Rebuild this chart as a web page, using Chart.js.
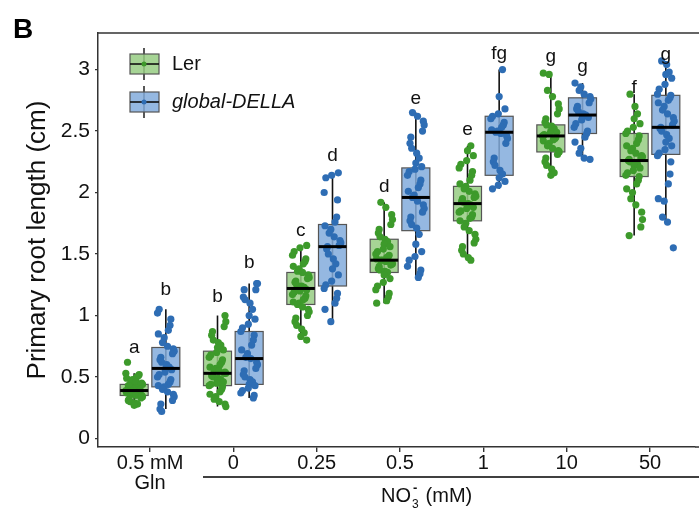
<!DOCTYPE html>
<html>
<head>
<meta charset="utf-8">
<script src="https://cdn.jsdelivr.net/npm/chart.js@4"></script>
<style>
  body { margin: 0; background: #fff; }
  #wrap { width: 699px; height: 508px; position: relative; }
</style>
</head>
<body>
<div id="wrap"><canvas id="myChart" width="699" height="508"></canvas></div>
<script>
const FONT = 'Arial, "Liberation Sans", sans-serif';

const categories = [['0.5 mM', 'Gln'], '0', '0.25', '0.5', '1', '10', '50'];
const yTicks = [0, 0.5, 1, 1.5, 2, 2.5, 3];

// box stats: [whiskerLow, q1, median, q3, whiskerHigh]
const lerBoxes = [
  [0.28, 0.35, 0.39, 0.44, 0.53],
  [0.26, 0.43, 0.53, 0.71, 1.00],
  [0.80, 1.09, 1.22, 1.35, 1.57],
  [1.10, 1.35, 1.45, 1.62, 1.92],
  [1.45, 1.77, 1.91, 2.05, 2.38],
  [2.14, 2.33, 2.46, 2.55, 2.97],
  [1.65, 2.13, 2.26, 2.48, 2.80],
];
const dellaBoxes = [
  [0.24, 0.42, 0.57, 0.74, 1.05],
  [0.33, 0.44, 0.65, 0.87, 1.26],
  [0.95, 1.24, 1.56, 1.74, 2.16],
  [1.30, 1.69, 1.96, 2.20, 2.65],
  [2.03, 2.14, 2.49, 2.62, 3.00],
  [2.27, 2.48, 2.63, 2.77, 2.89],
  [1.76, 2.31, 2.53, 2.79, 3.07],
];

// individual roots
const lerPoints = [
  [0.62, 0.53, 0.52, 0.51, 0.50, 0.49, 0.48, 0.47, 0.46, 0.45, 0.44, 0.44, 0.43, 0.43, 0.42, 0.41, 0.41, 0.40, 0.40, 0.39, 0.39, 0.39, 0.38, 0.38, 0.37, 0.37, 0.36, 0.36, 0.35, 0.35, 0.34, 0.33, 0.32, 0.31, 0.30, 0.29, 0.28, 0.27],
  [1.00, 0.95, 0.91, 0.87, 0.84, 0.80, 0.78, 0.76, 0.74, 0.72, 0.70, 0.68, 0.66, 0.64, 0.62, 0.60, 0.58, 0.57, 0.56, 0.55, 0.54, 0.53, 0.53, 0.52, 0.51, 0.50, 0.49, 0.48, 0.47, 0.46, 0.45, 0.44, 0.43, 0.42, 0.40, 0.38, 0.36, 0.34, 0.32, 0.30, 0.28, 0.26],
  [1.57, 1.55, 1.52, 1.49, 1.46, 1.44, 1.42, 1.40, 1.38, 1.36, 1.35, 1.33, 1.31, 1.30, 1.28, 1.27, 1.25, 1.24, 1.23, 1.22, 1.21, 1.20, 1.19, 1.17, 1.16, 1.14, 1.13, 1.11, 1.10, 1.09, 1.07, 1.05, 1.03, 1.00, 0.98, 0.95, 0.92, 0.89, 0.86, 0.83, 0.80],
  [1.92, 1.88, 1.82, 1.78, 1.74, 1.70, 1.67, 1.64, 1.62, 1.60, 1.58, 1.56, 1.54, 1.52, 1.50, 1.49, 1.48, 1.47, 1.46, 1.45, 1.45, 1.44, 1.43, 1.42, 1.41, 1.40, 1.38, 1.37, 1.36, 1.35, 1.33, 1.30, 1.27, 1.24, 1.21, 1.18, 1.15, 1.12, 1.10],
  [2.38, 2.34, 2.30, 2.26, 2.23, 2.20, 2.17, 2.14, 2.10, 2.07, 2.05, 2.03, 2.01, 1.99, 1.97, 1.96, 1.95, 1.93, 1.92, 1.91, 1.90, 1.89, 1.88, 1.87, 1.85, 1.84, 1.82, 1.80, 1.79, 1.77, 1.75, 1.72, 1.69, 1.66, 1.62, 1.59, 1.56, 1.53, 1.50, 1.47, 1.45],
  [2.97, 2.96, 2.83, 2.78, 2.72, 2.68, 2.64, 2.60, 2.57, 2.55, 2.54, 2.52, 2.50, 2.49, 2.48, 2.47, 2.46, 2.45, 2.44, 2.43, 2.42, 2.40, 2.38, 2.36, 2.34, 2.33, 2.31, 2.28, 2.25, 2.22, 2.19, 2.16, 2.14],
  [2.80, 2.70, 2.64, 2.60, 2.56, 2.53, 2.50, 2.48, 2.46, 2.43, 2.40, 2.38, 2.36, 2.34, 2.32, 2.30, 2.29, 2.28, 2.27, 2.26, 2.25, 2.24, 2.23, 2.22, 2.20, 2.18, 2.16, 2.14, 2.13, 2.10, 2.07, 2.03, 2.00, 1.95, 1.90, 1.84, 1.78, 1.72, 1.65],
];
const dellaPoints = [
  [1.05, 1.02, 0.97, 0.92, 0.88, 0.85, 0.82, 0.78, 0.75, 0.73, 0.71, 0.69, 0.66, 0.64, 0.62, 0.60, 0.58, 0.57, 0.56, 0.54, 0.52, 0.50, 0.48, 0.46, 0.44, 0.43, 0.42, 0.40, 0.38, 0.36, 0.34, 0.31, 0.28, 0.24, 0.22],
  [1.26, 1.26, 1.21, 1.21, 1.15, 1.13, 1.10, 1.05, 1.00, 0.97, 0.93, 0.90, 0.87, 0.84, 0.80, 0.76, 0.72, 0.69, 0.66, 0.65, 0.62, 0.60, 0.57, 0.55, 0.52, 0.50, 0.48, 0.46, 0.44, 0.43, 0.41, 0.39, 0.37, 0.35, 0.33],
  [2.16, 2.14, 2.12, 2.00, 1.94, 1.80, 1.76, 1.73, 1.70, 1.67, 1.64, 1.61, 1.59, 1.57, 1.56, 1.54, 1.50, 1.46, 1.42, 1.38, 1.33, 1.28, 1.25, 1.22, 1.18, 1.14, 1.10, 1.05, 0.95],
  [2.65, 2.62, 2.58, 2.55, 2.50, 2.45, 2.40, 2.36, 2.32, 2.28, 2.24, 2.21, 2.19, 2.17, 2.14, 2.10, 2.07, 2.04, 2.01, 1.98, 1.96, 1.93, 1.90, 1.87, 1.84, 1.80, 1.77, 1.74, 1.71, 1.66, 1.58, 1.52, 1.48, 1.45, 1.40, 1.37, 1.34, 1.31],
  [3.00, 2.78, 2.68, 2.64, 2.62, 2.60, 2.57, 2.55, 2.53, 2.51, 2.50, 2.49, 2.48, 2.46, 2.44, 2.40, 2.28, 2.25, 2.22, 2.18, 2.15, 2.12, 2.09, 2.06, 2.03],
  [2.89, 2.86, 2.83, 2.80, 2.78, 2.76, 2.73, 2.70, 2.68, 2.66, 2.64, 2.63, 2.62, 2.61, 2.59, 2.56, 2.53, 2.50, 2.48, 2.45, 2.41, 2.36, 2.32, 2.28, 2.27],
  [3.07, 3.04, 2.98, 2.96, 2.93, 2.88, 2.84, 2.80, 2.79, 2.77, 2.75, 2.73, 2.70, 2.67, 2.64, 2.61, 2.58, 2.55, 2.53, 2.52, 2.50, 2.47, 2.44, 2.41, 2.38, 2.35, 2.32, 2.30, 2.25, 2.15, 2.07, 1.95, 1.93, 1.80, 1.76, 1.55],
];

// significance letters and the height they sit at
const lerLetters = ['a', 'b', 'c', 'd', 'e', 'g', 'f'];
const lerLetterY = [0.74, 1.15, 1.69, 2.05, 2.51, 3.10, 2.85];
const dellaLetters = ['b', 'b', 'd', 'e', 'fg', 'g', 'g'];
const dellaLetterY = [1.21, 1.43, 2.30, 2.76, 3.13, 3.02, 3.12];

const GREEN = '#3d9a2b', GREEN_FILL = 'rgba(150,205,130,0.85)';
const BLUE = '#2e6db4', BLUE_FILL = 'rgba(130,172,220,0.85)';
const SHIFT = 0.19, HALF = 0.168;
const jitter = [-0.08, 0.05, -0.02, 0.09, -0.06, 0.01, 0.07, -0.1, 0.03, -0.04, 0.1, -0.07, 0.04, -0.01, 0.06, -0.09, 0.02, 0.08, -0.05, 0];

function toPoints(groups, shift) {
  const out = [];
  groups.forEach((vals, i) => {
    vals.forEach((v, k) => out.push({ x: i + shift + jitter[(k * 7 + i * 3) % jitter.length], y: v }));
  });
  return out;
}

const series = [
  { boxes: lerBoxes, fill: GREEN_FILL, shift: -SHIFT, letters: lerLetters, letterY: lerLetterY },
  { boxes: dellaBoxes, fill: BLUE_FILL, shift: SHIFT, letters: dellaLetters, letterY: dellaLetterY },
];

const boxPlugin = {
  id: 'boxes',
  beforeDatasetsDraw(chart) {
    const { ctx, scales: { x, y } } = chart;
    const hw = x.getPixelForValue(HALF) - x.getPixelForValue(0);
    ctx.save();
    series.forEach(s => {
      s.boxes.forEach((b, i) => {
        const xc = x.getPixelForValue(i + s.shift);
        ctx.strokeStyle = '#111';
        ctx.lineWidth = 1.6;
        ctx.beginPath();
        ctx.moveTo(xc, y.getPixelForValue(b[0]));
        ctx.lineTo(xc, y.getPixelForValue(b[4]));
        ctx.stroke();
        const top = y.getPixelForValue(b[3]), bot = y.getPixelForValue(b[1]);
        ctx.fillStyle = s.fill;
        ctx.fillRect(xc - hw, top, hw * 2, bot - top);
        ctx.strokeStyle = '#555';
        ctx.lineWidth = 1.2;
        ctx.strokeRect(xc - hw, top, hw * 2, bot - top);
      });
    });
    ctx.restore();
  },
  afterDatasetsDraw(chart) {
    const { ctx, scales: { x, y } } = chart;
    const hw = x.getPixelForValue(HALF) - x.getPixelForValue(0);
    ctx.save();
    ctx.strokeStyle = '#000';
    ctx.lineWidth = 3;
    series.forEach(s => {
      s.boxes.forEach((b, i) => {
        const xc = x.getPixelForValue(i + s.shift);
        const ym = y.getPixelForValue(b[2]);
        ctx.beginPath();
        ctx.moveTo(xc - hw, ym);
        ctx.lineTo(xc + hw, ym);
        ctx.stroke();
      });
      ctx.fillStyle = '#111';
      ctx.font = '19px ' + FONT;
      ctx.textAlign = 'center';
      ctx.textBaseline = 'middle';
      s.letters.forEach((t, i) => {
        ctx.fillText(t, x.getPixelForValue(i + s.shift), y.getPixelForValue(s.letterY[i]));
      });
    });
    ctx.restore();
  },
  afterDraw(chart) {
    const { ctx, chartArea: a } = chart;
    ctx.save();
    // frame runs off the right edge of the picture
    ctx.strokeStyle = '#333';
    ctx.lineWidth = 1.5;
    ctx.beginPath();
    ctx.moveTo(a.left, a.top);
    ctx.lineTo(chart.width, a.top);
    ctx.moveTo(a.right, a.bottom);
    ctx.lineTo(chart.width, a.bottom);
    ctx.stroke();

    // panel letter
    ctx.fillStyle = '#000';
    ctx.font = 'bold 28px ' + FONT;
    ctx.textAlign = 'left';
    ctx.textBaseline = 'alphabetic';
    ctx.fillText('B', 13, 38);

    // y title
    ctx.save();
    ctx.translate(38, 240);
    ctx.rotate(-Math.PI / 2);
    ctx.font = '26px ' + FONT;
    ctx.textAlign = 'center';
    ctx.textBaseline = 'middle';
    ctx.fillStyle = '#111';
    ctx.fillText('Primary root length (cm)', 0, 0);
    ctx.restore();

    // nitrate bracket
    ctx.strokeStyle = '#000';
    ctx.lineWidth = 1.6;
    ctx.beginPath();
    ctx.moveTo(203, 477);
    ctx.lineTo(chart.width, 477);
    ctx.stroke();
    ctx.fillStyle = '#111';
    ctx.textBaseline = 'alphabetic';
    ctx.textAlign = 'left';
    ctx.font = '20px ' + FONT;
    let tx = 381;
    const by = 502;
    ctx.fillText('NO', tx, by);
    tx += ctx.measureText('NO').width;
    ctx.font = '12px ' + FONT;
    ctx.fillText('3', tx + 1, by + 6);
    ctx.font = 'bold 13px ' + FONT;
    ctx.fillText('-', tx + 2, by - 10);
    tx += 9;
    ctx.font = '20px ' + FONT;
    ctx.fillText(' (mM)', tx, by);

    // legend
    const items = [
      { label: 'Ler', fill: GREEN_FILL, dot: GREEN, y: 64, italic: false },
      { label: 'global-DELLA', fill: BLUE_FILL, dot: BLUE, y: 102, italic: true },
    ];
    items.forEach(it => {
      ctx.strokeStyle = '#111';
      ctx.lineWidth = 1.4;
      ctx.beginPath();
      ctx.moveTo(144, it.y - 16);
      ctx.lineTo(144, it.y + 16);
      ctx.stroke();
      ctx.fillStyle = it.fill;
      ctx.fillRect(130, it.y - 10, 29, 20);
      ctx.strokeStyle = '#555';
      ctx.lineWidth = 1.2;
      ctx.strokeRect(130, it.y - 10, 29, 20);
      ctx.strokeStyle = '#111';
      ctx.lineWidth = 1.6;
      ctx.beginPath();
      ctx.moveTo(130, it.y);
      ctx.lineTo(159, it.y);
      ctx.stroke();
      ctx.fillStyle = it.dot;
      ctx.beginPath();
      ctx.arc(144, it.y, 2.5, 0, Math.PI * 2);
      ctx.fill();
      ctx.fillStyle = '#111';
      ctx.font = (it.italic ? 'italic ' : '') + '20px ' + FONT;
      ctx.textAlign = 'left';
      ctx.textBaseline = 'middle';
      ctx.fillText(it.label, 172, it.y);
    });
    ctx.restore();
  },
};

new Chart(document.getElementById('myChart'), {
  type: 'scatter',
  data: {
    datasets: [
      { label: 'Ler', data: toPoints(lerPoints, -SHIFT), backgroundColor: GREEN, borderWidth: 0, pointRadius: 3.6 },
      { label: 'global-DELLA', data: toPoints(dellaPoints, SHIFT), backgroundColor: BLUE, borderWidth: 0, pointRadius: 3.6 },
    ],
  },
  options: {
    responsive: false,
    animation: false,
    devicePixelRatio: 1,
    layout: { padding: { top: 33, right: 0, bottom: 0, left: 0 } },
    plugins: { legend: { display: false }, tooltip: { enabled: false } },
    scales: {
      x: {
        type: 'linear',
        min: -0.624,
        max: 6.54,
        afterBuildTicks: s => { s.ticks = categories.map((c, i) => ({ value: i })); },
        afterFit: s => { s.height = 61; },
        ticks: {
          callback: v => categories[v],
          autoSkip: false,
          maxRotation: 0,
          color: '#111',
          padding: 1,
          font: { family: FONT, size: 20, lineHeight: 1.0 },
        },
        grid: { drawOnChartArea: false, tickLength: 5, color: '#333', lineWidth: 1.4 },
        border: { color: '#333', width: 1.5 },
      },
      y: {
        min: -0.069,
        max: 3.297,
        afterBuildTicks: s => { s.ticks = yTicks.map(v => ({ value: v })); },
        afterFit: s => { s.width = 98; },
        ticks: {
          callback: v => String(v),
          color: '#111',
          padding: 5,
          font: { family: FONT, size: 21 },
        },
        grid: { drawOnChartArea: false, tickLength: 3, color: '#333', lineWidth: 1.2 },
        border: { color: '#333', width: 1.5 },
      },
    },
  },
  plugins: [boxPlugin],
});
</script>
</body>
</html>
